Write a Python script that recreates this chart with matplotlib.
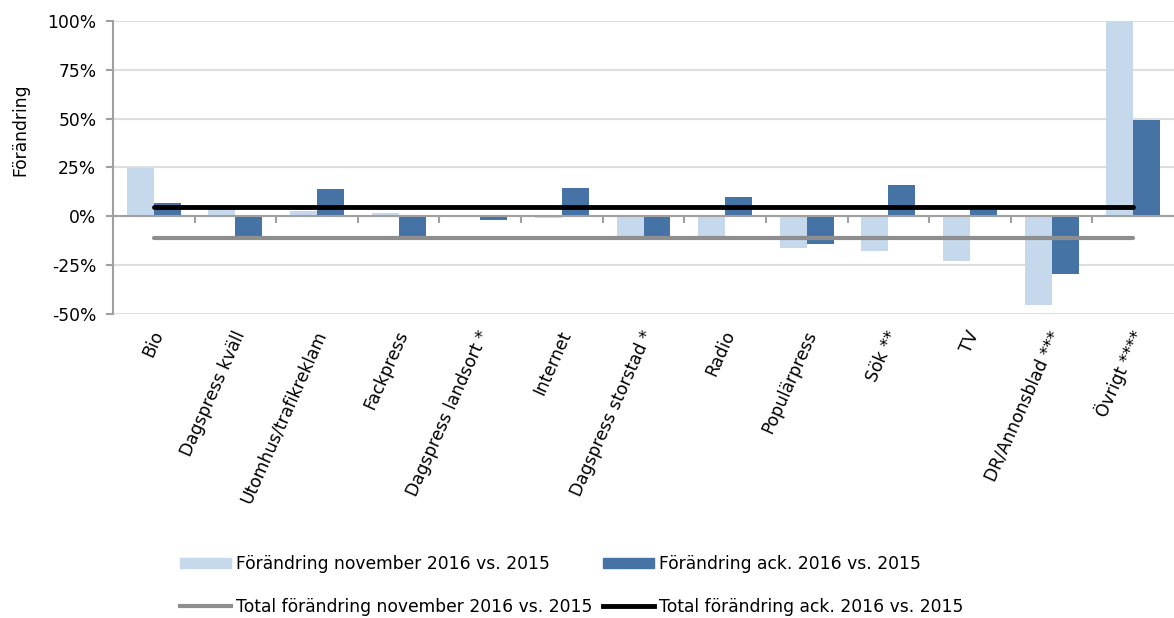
import numpy as np
import matplotlib
matplotlib.use("Agg")
import matplotlib.pyplot as plt
from matplotlib.lines import Line2D
from matplotlib.patches import Patch
from matplotlib.ticker import FuncFormatter

# Data (percent change)
categories = ["Bio", "Dagspress kväll", "Utomhus/trafikreklam", "Fackpress",
              "Dagspress landsort *", "Internet", "Dagspress storstad *", "Radio",
              "Populärpress", "Sök **", "TV", "DR/Annonsblad ***", "Övrigt ****"]
nov_change = [24.5, 3.5, 2.5, 1.5, 0.0, -0.8, -10.0, -10.0, -16.0, -18.0, -23.0, -45.5, 100.0]
ack_change = [7.0, -10.0, 14.0, -10.0, -2.0, 14.6, -10.0, 9.7, -14.0, 15.8, 3.0, -29.7, 49.5]
total_nov = [-10.9] * 13
total_ack = [4.6] * 13

light = "#C5D8EC"
dark = "#4573A5"
gray = "#8E8E8E"
axis_gray = "#A0A0A0"
grid_gray = "#DEDEDE"

plt.rcParams["font.family"] = "DejaVu Sans"
fs = 12.3

fig = plt.figure(figsize=(11.74, 6.18), dpi=100)
ax = fig.add_axes([113 / 1174, 1 - 314 / 618, 1 - 113 / 1174, (314 - 21) / 618])

x = np.arange(len(categories))
w = 0.33
ax.bar(x - w / 2, nov_change, w, color=light, zorder=2)
ax.bar(x + w / 2, ack_change, w, color=dark, zorder=2)
ax.plot(x, total_nov, color=gray, lw=3, zorder=4, solid_capstyle="round")
ax.plot(x, total_ack, color="black", lw=3.5, zorder=5, solid_capstyle="round")

ax.set_xlim(-0.5, len(categories) - 0.5)
ax.set_ylim(-50, 100)
ax.set_yticks([-50, -25, 0, 25, 50, 75, 100])
ax.yaxis.set_major_formatter(FuncFormatter(lambda v, p: f"{v:.0f}%"))
ax.grid(axis="y", color=grid_gray, lw=1.5, zorder=0)
ax.set_axisbelow(True)

for s in ["top", "right"]:
    ax.spines[s].set_visible(False)
ax.spines["left"].set_color(axis_gray)
ax.spines["left"].set_linewidth(1.5)
ax.spines["bottom"].set_position(("data", 0))
ax.spines["bottom"].set_color(axis_gray)
ax.spines["bottom"].set_linewidth(1.5)
ax.spines["bottom"].set_zorder(3)

ax.set_xticks([])
ax.set_xticks(np.arange(0.5, len(categories) - 0.5, 1), minor=True)
ax.tick_params(axis="x", which="minor", length=5, width=1.5, color=axis_gray, direction="out")
ax.tick_params(axis="y", length=5, width=1.5, color=axis_gray, labelsize=fs, pad=7)

for i, c in enumerate(categories):
    ax.text(i + 0.06, -0.06, c, transform=ax.get_xaxis_transform(), rotation=66,
            rotation_mode="anchor", ha="right", va="center", fontsize=fs)

ax.set_ylabel("Förändring", fontsize=fs)
ax.yaxis.set_label_coords(-0.079, 0.63)

handles = [Patch(color=light), Line2D([], [], color=gray, lw=3),
           Patch(color=dark), Line2D([], [], color="black", lw=3.5)]
labels = ["Förändring november 2016 vs. 2015", "Total förändring november 2016 vs. 2015",
          "Förändring ack. 2016 vs. 2015", "Total förändring ack. 2016 vs. 2015"]
fig.legend(handles, labels, ncol=2, loc="upper left", bbox_to_anchor=(180 / 1174, 1 - 555 / 618),
           frameon=False, fontsize=fs, borderpad=0, borderaxespad=0, handlelength=3.0,
           handleheight=0.6, handletextpad=0.3, columnspacing=0.6, labelspacing=1.45)

fig.savefig("out.png", dpi=100)
